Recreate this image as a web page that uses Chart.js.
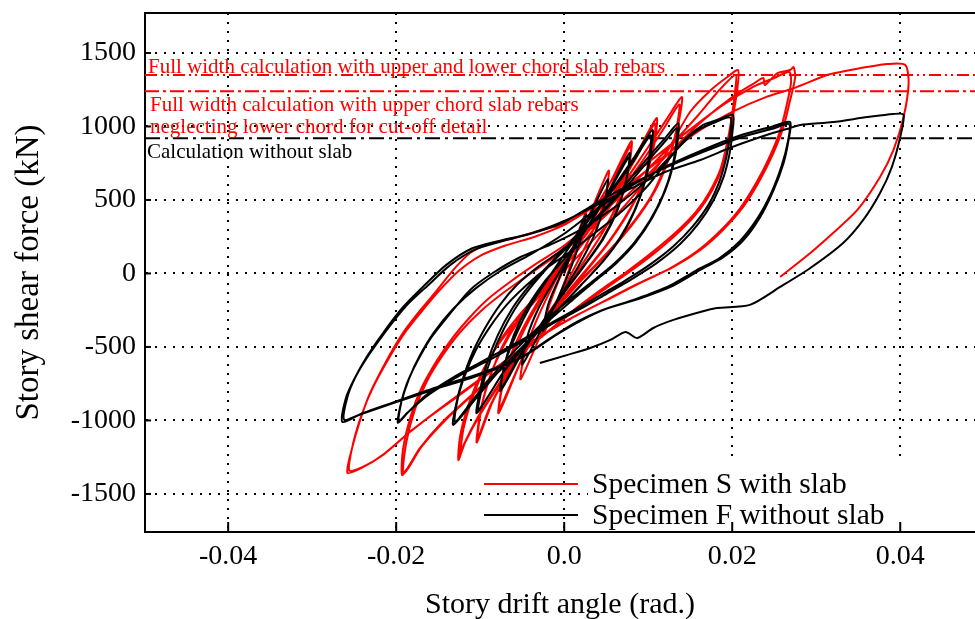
<!DOCTYPE html>
<html>
<head>
<meta charset="utf-8">
<script src="https://cdn.jsdelivr.net/npm/chart.js@4.4.1/dist/chart.umd.min.js"></script>
<style>
  html, body { margin: 0; padding: 0; background: #fff; }
  #wrap { width: 975px; height: 619px; position: relative; }
</style>
</head>
<body>
<div id="wrap"><canvas id="hysteresis"></canvas></div>
<script>
// ============================================
// Data (story drift angle [rad], story shear force [kN])
// ============================================

const xTicks = [-0.04, -0.02, 0, 0.02, 0.04];
const xTickLabels = ['-0.04', '-0.02', '0.0', '0.02', '0.04'];
const yTicks = [-1500, -1000, -500, 0, 500, 1000, 1500];

// calculated strengths (horizontal reference lines)
const calcFullWidthBothChords = 1350;
const calcFullWidthUpperChord = 1240;
const calcWithoutSlab = 920;

// Specimen F without slab - cycles in loading order
const loopF1 = [[0,0],[0.0012,200],[0.0026,400],[0.0020,240],[0.0008,40],[-0.0006,-150],[-0.0025,-390]];
const loopF2 = [[-0.0019,-210],[-0.0005,-20],[0.0012,170],[0.0030,390],[0.0052,640],[0.0047,450],[0.0035,250],[0.0017,50],[-0.0004,-150],[-0.0026,-370],[-0.0050,-620]];
const loopF3 = [[-0.0044,-430],[-0.0030,-230],[-0.0012,-50],[0.0008,140],[0.0030,340],[0.0054,570],[0.0078,820],[0.0074,640],[0.0064,440],[0.0047,240],[0.0025,60],[0.0000,-130],[-0.0026,-330],[-0.0052,-560],[-0.0076,-800]];
const loopF4 = [[-0.0071,-620],[-0.0060,-420],[-0.0044,-230],[-0.0024,-60],[0.0000,100],[0.0026,300],[0.0052,540],[0.0077,790],[0.0073,610],[0.0062,420],[0.0045,230],[0.0023,50],[-0.0002,-140],[-0.0028,-350],[-0.0054,-570],[-0.0075,-780]];
const loopF5 = [[-0.0070,-600],[-0.0056,-400],[-0.0040,-220],[-0.0020,-40],[0.0005,170],[0.0030,370],[0.0058,580],[0.0082,780],[0.0105,975],[0.0103,820],[0.0097,640],[0.0085,440],[0.0068,250],[0.0046,80],[0.0020,-80],[-0.0008,-250],[-0.0040,-450],[-0.0070,-650],[-0.0104,-950]];
const loopF6 = [[-0.0100,-790],[-0.0092,-610],[-0.0079,-420],[-0.0062,-240],[-0.0041,-80],[-0.0018,60],[0.0007,210],[0.0032,390],[0.0058,570],[0.0082,760],[0.0103,940],[0.0101,790],[0.0095,610],[0.0083,420],[0.0066,240],[0.0044,70],[0.0018,-90],[-0.0010,-260],[-0.0042,-460],[-0.0072,-670],[-0.0102,-930]];
const loopF7 = [[-0.0097,-760],[-0.0086,-560],[-0.0072,-380],[-0.0055,-210],[-0.0035,-60],[-0.0010,100],[0.0015,240],[0.0045,420],[0.0075,620],[0.0100,790],[0.0120,920],[0.0136,1023],[0.0135,900],[0.0130,740],[0.0120,560],[0.0105,380],[0.0085,210],[0.0062,70],[0.0035,-60],[0.0010,-180],[-0.0020,-330],[-0.0050,-500],[-0.0080,-680],[-0.0105,-850],[-0.0132,-1030]];
const loopF8 = [[-0.0129,-900],[-0.0122,-740],[-0.0110,-550],[-0.0094,-370],[-0.0076,-210],[-0.0055,-70],[-0.0030,50],[-0.0005,150],[0.0020,270],[0.0050,440],[0.0080,630],[0.0105,800],[0.0122,910],[0.0134,990],[0.0133,870],[0.0128,710],[0.0118,540],[0.0102,360],[0.0082,200],[0.0058,60],[0.0030,-70],[0.0002,-200],[-0.0028,-350],[-0.0058,-520],[-0.0088,-710],[-0.0110,-870],[-0.0130,-1010]];
const loopF9 = [[-0.0127,-860],[-0.0118,-690],[-0.0105,-520],[-0.0088,-360],[-0.0068,-210],[-0.0045,-80],[-0.0020,40],[0.0010,160],[0.0040,290],[0.0070,430],[0.0100,600],[0.0125,780],[0.0145,920],[0.0165,1010],[0.0185,1050],[0.0201,1078],[0.0200,950],[0.0197,820],[0.0190,660],[0.0178,500],[0.0160,340],[0.0138,200],[0.0110,70],[0.0080,-40],[0.0050,-140],[0.0020,-240],[-0.0010,-330],[-0.0040,-430],[-0.0080,-560],[-0.0120,-680],[-0.0160,-820],[-0.0185,-940],[-0.0198,-1017]];
const loopF10 = [[-0.0195,-900],[-0.0187,-745],[-0.0175,-600],[-0.0160,-450],[-0.0139,-296],[-0.0112,-112],[-0.0085,3],[-0.0052,112],[-0.0017,194],[0.0019,296],[0.0060,450],[0.0100,640],[0.0130,820],[0.0155,960],[0.0178,1025],[0.0198,1060],[0.0197,930],[0.0193,790],[0.0185,630],[0.0172,470],[0.0153,320],[0.0130,185],[0.0102,60],[0.0072,-50],[0.0042,-150],[0.0012,-250],[-0.0018,-345],[-0.0050,-450],[-0.0090,-575],[-0.0130,-700],[-0.0165,-830],[-0.0187,-950],[-0.0197,-1005]];
const loopF11 = [[-0.0194,-880],[-0.0185,-720],[-0.0172,-560],[-0.0155,-400],[-0.0132,-240],[-0.0105,-100],[-0.0075,20],[-0.0040,130],[0.0000,270],[0.0030,400],[0.0070,560],[0.0115,710],[0.0165,840],[0.0210,940],[0.0248,1000],[0.0269,1030],[0.0267,905],[0.0261,748],[0.0249,564],[0.0233,381],[0.0213,224],[0.0189,109],[0.0162,24],[0.0130,-82],[0.0090,-170],[0.0050,-240],[0.0020,-320],[-0.0010,-420],[-0.0050,-570],[-0.0100,-680],[-0.0150,-770],[-0.0200,-870],[-0.0240,-950],[-0.0264,-1010]];
const loopF12 = [[-0.0260,-850],[-0.0250,-720],[-0.0235,-567],[-0.0215,-400],[-0.0192,-230],[-0.0168,-90],[-0.0140,60],[-0.0110,170],[-0.0075,225],[-0.0040,270],[0.0000,350],[0.0030,450],[0.0070,580],[0.0115,705],[0.0165,825],[0.0210,925],[0.0248,985],[0.0268,1015],[0.0266,890],[0.0259,735],[0.0247,555],[0.0230,375],[0.0209,220],[0.0185,105],[0.0157,20],[0.0125,-85],[0.0085,-175],[0.0045,-250],[0.0015,-330],[-0.0015,-435],[-0.0055,-585],[-0.0105,-700],[-0.0155,-790],[-0.0205,-885],[-0.0243,-960],[-0.0262,-995]];
const loopF13 = [[-0.0258,-840],[-0.0248,-700],[-0.0232,-550],[-0.0212,-390],[-0.0188,-220],[-0.0162,-80],[-0.0135,60],[-0.0105,165],[-0.0070,225],[-0.0035,280],[0.0005,370],[0.0040,470],[0.0080,580],[0.0120,690],[0.0162,772],[0.0200,860],[0.0240,940],[0.0269,990],[0.0281,1010],[0.0320,1030],[0.0361,1064],[0.0392,1085],[0.0404,1080],[0.0400,928],[0.0390,724],[0.0376,547],[0.0356,364],[0.0332,207],[0.0293,37],[0.0257,-92],[0.0221,-214],[0.0182,-235],[0.0162,-262],[0.0130,-316],[0.0106,-371],[0.0087,-439],[0.0073,-398],[0.0055,-452],[0.0031,-507],[0.0004,-554],[-0.0029,-609]];

// Specimen S with slab - cycles in loading order
const loopS1 = [[0,0],[0.0013,220],[0.0026,420],[0.0020,260],[0.0008,60],[-0.0007,-170],[-0.0026,-430]];
const loopS2 = [[-0.0019,-240],[-0.0006,-40],[0.0010,170],[0.0030,400],[0.0053,700],[0.0048,500],[0.0035,300],[0.0016,80],[-0.0006,-160],[-0.0028,-420],[-0.0052,-720]];
const loopS3 = [[-0.0046,-520],[-0.0033,-320],[-0.0015,-100],[0.0006,130],[0.0030,380],[0.0055,620],[0.0080,900],[0.0077,720],[0.0067,520],[0.0050,320],[0.0028,120],[0.0004,-80],[-0.0022,-300],[-0.0050,-580],[-0.0078,-950]];
const loopS4 = [[-0.0074,-760],[-0.0064,-560],[-0.0049,-370],[-0.0030,-180],[-0.0008,0],[0.0018,220],[0.0048,500],[0.0079,870],[0.0076,690],[0.0065,500],[0.0048,300],[0.0026,100],[0.0002,-100],[-0.0024,-320],[-0.0051,-590],[-0.0077,-920]];
const loopS5 = [[-0.0071,-700],[-0.0057,-500],[-0.0040,-300],[-0.0020,-110],[0.0002,80],[0.0028,290],[0.0058,540],[0.0085,800],[0.0110,1057],[0.0108,900],[0.0101,730],[0.0090,560],[0.0074,390],[0.0053,210],[0.0028,30],[0.0000,-160],[-0.0030,-380],[-0.0060,-620],[-0.0085,-870],[-0.0104,-1150]];
const loopS6 = [[-0.0101,-980],[-0.0094,-800],[-0.0082,-610],[-0.0066,-430],[-0.0046,-260],[-0.0024,-100],[0.0000,70],[0.0028,280],[0.0058,520],[0.0085,780],[0.0108,1020],[0.0106,870],[0.0099,700],[0.0087,530],[0.0070,360],[0.0049,185],[0.0024,10],[-0.0004,-180],[-0.0034,-400],[-0.0064,-650],[-0.0088,-900],[-0.0103,-1120]];
const loopS7 = [[-0.0098,-900],[-0.0088,-700],[-0.0074,-500],[-0.0056,-320],[-0.0034,-150],[-0.0010,20],[0.0015,190],[0.0045,420],[0.0075,650],[0.0100,860],[0.0122,1050],[0.0140,1200],[0.0138,1080],[0.0132,920],[0.0122,740],[0.0108,560],[0.0090,400],[0.0068,240],[0.0042,80],[0.0015,-80],[-0.0015,-280],[-0.0045,-500],[-0.0075,-740],[-0.0100,-960],[-0.0118,-1150],[-0.0126,-1270]];
const loopS8 = [[-0.0124,-1112],[-0.0116,-928],[-0.0104,-745],[-0.0088,-568],[-0.0068,-405],[-0.0044,-248],[-0.0020,-90],[0.0005,80],[0.0035,300],[0.0065,540],[0.0095,780],[0.0120,1000],[0.0137,1150],[0.0135,1030],[0.0129,870],[0.0118,700],[0.0104,530],[0.0085,370],[0.0062,210],[0.0036,50],[0.0008,-110],[-0.0022,-310],[-0.0052,-530],[-0.0080,-770],[-0.0104,-990],[-0.0120,-1170],[-0.0124,-1240]];
const loopS9 = [[-0.0120,-1060],[-0.0110,-860],[-0.0096,-660],[-0.0078,-470],[-0.0056,-300],[-0.0030,-140],[0.0000,20],[0.0035,230],[0.0075,480],[0.0115,760],[0.0150,1100],[0.0175,1250],[0.0195,1340],[0.0207,1384],[0.0206,1250],[0.0201,1071],[0.0197,915],[0.0189,732],[0.0177,575],[0.0162,440],[0.0140,300],[0.0110,150],[0.0080,20],[0.0050,-100],[0.0015,-240],[-0.0020,-400],[-0.0060,-580],[-0.0100,-780],[-0.0140,-990],[-0.0170,-1180],[-0.0185,-1320],[-0.0193,-1370]];
const loopS10 = [[-0.0192,-1200],[-0.0183,-976],[-0.0171,-792],[-0.0151,-588],[-0.0132,-432],[-0.0112,-296],[-0.0092,-180],[-0.0065,-60],[-0.0035,60],[0.0000,190],[0.0040,380],[0.0080,600],[0.0120,830],[0.0160,1080],[0.0185,1250],[0.0204,1350],[0.0203,1220],[0.0199,1050],[0.0194,890],[0.0186,710],[0.0173,555],[0.0157,420],[0.0134,285],[0.0104,140],[0.0074,10],[0.0044,-110],[0.0010,-255],[-0.0025,-420],[-0.0065,-600],[-0.0105,-800],[-0.0145,-1010],[-0.0172,-1190],[-0.0186,-1320],[-0.0192,-1355]];
const loopS11 = [[-0.0188,-1150],[-0.0178,-930],[-0.0164,-740],[-0.0145,-560],[-0.0124,-400],[-0.0100,-260],[-0.0072,-130],[-0.0040,0],[-0.0005,140],[0.0035,320],[0.0080,560],[0.0125,820],[0.0165,1040],[0.0200,1200],[0.0225,1290],[0.0237,1329],[0.0239,1282],[0.0254,1363],[0.0269,1384],[0.0273,1404],[0.0275,1336],[0.0269,1180],[0.0261,996],[0.0249,819],[0.0233,636],[0.0213,452],[0.0189,296],[0.0162,160],[0.0130,44],[0.0090,-65],[0.0051,-180],[0.0011,-296],[-0.0029,-432],[-0.0080,-640],[-0.0130,-850],[-0.0180,-1060],[-0.0215,-1230],[-0.0240,-1320],[-0.0258,-1357]];
const loopS12 = [[-0.0253,-1200],[-0.0243,-1000],[-0.0231,-813],[-0.0211,-588],[-0.0192,-405],[-0.0171,-248],[-0.0151,-112],[-0.0132,24],[-0.0112,139],[-0.0090,200],[-0.0060,240],[-0.0030,290],[0.0005,350],[0.0035,470],[0.0070,620],[0.0110,800],[0.0150,980],[0.0190,1150],[0.0225,1270],[0.0250,1330],[0.0268,1370],[0.0270,1300],[0.0265,1150],[0.0257,970],[0.0245,800],[0.0229,620],[0.0209,440],[0.0185,285],[0.0158,150],[0.0126,35],[0.0086,-75],[0.0047,-190],[0.0007,-310],[-0.0033,-445],[-0.0085,-655],[-0.0135,-865],[-0.0183,-1075],[-0.0217,-1240],[-0.0241,-1320],[-0.0256,-1340]];
const loopS13 = [[-0.0251,-1150],[-0.0241,-960],[-0.0228,-780],[-0.0208,-570],[-0.0188,-390],[-0.0167,-240],[-0.0146,-100],[-0.0125,20],[-0.0100,120],[-0.0070,190],[-0.0035,250],[0.0000,330],[0.0040,470],[0.0080,620],[0.0120,800],[0.0162,976],[0.0200,1100],[0.0240,1200],[0.0273,1260],[0.0313,1350],[0.0329,1370],[0.0360,1404],[0.0385,1425],[0.0406,1418],[0.0410,1295],[0.0404,1064],[0.0392,840],[0.0376,656],[0.0349,432],[0.0320,275],[0.0293,139],[0.0257,-24]];

const loopsF = [loopF1, loopF2, loopF3, loopF4, loopF5, loopF6, loopF7, loopF8, loopF9, loopF10, loopF11, loopF12, loopF13];
const loopsS = [loopS1, loopS2, loopS3, loopS4, loopS5, loopS6, loopS7, loopS8, loopS9, loopS10, loopS11, loopS12, loopS13];

// ============================================
// Helpers
// ============================================

const SERIF = '"Liberation Serif", "DejaVu Serif", serif';

function toPoints(loops) {
  return loops.flat().map(p => ({ x: p[0], y: p[1] }));
}

function refLine(value, color, dash) {
  return {
    data: [{ x: -0.0499, y: value }, { x: 0.0489, y: value }],
    borderColor: color,
    borderWidth: 2,
    borderDash: dash,
    showLine: true,
    pointRadius: 0,
    tension: 0
  };
}

// annotations, legend, inward ticks, frame
const decorPlugin = {
  id: 'decor',
  beforeDatasetsDraw(chart) {
    const { ctx, chartArea } = chart;
    // legend text box hides the grid behind it
    ctx.save();
    ctx.fillStyle = '#fff';
    ctx.fillRect(588, 462, chartArea.right - 588, chartArea.bottom - 463);
    ctx.restore();
  },
  afterDatasetsDraw(chart) {
    const { ctx, chartArea } = chart;
    const xs = chart.scales.x;
    const ys = chart.scales.y;
    ctx.save();

    // inward tick marks
    ctx.strokeStyle = '#000';
    ctx.lineWidth = 2;
    xTicks.forEach(v => {
      const px = xs.getPixelForValue(v);
      ctx.beginPath();
      ctx.moveTo(px, chartArea.bottom);
      ctx.lineTo(px, chartArea.bottom - 10);
      ctx.stroke();
    });
    yTicks.forEach(v => {
      const py = ys.getPixelForValue(v);
      ctx.beginPath();
      ctx.moveTo(chartArea.left, py);
      ctx.lineTo(chartArea.left + 6, py);
      ctx.stroke();
    });

    // top frame line
    ctx.beginPath();
    ctx.moveTo(chartArea.left, chartArea.top);
    ctx.lineTo(chartArea.right, chartArea.top);
    ctx.stroke();

    // annotations for the calculated strengths
    ctx.font = '21px ' + SERIF;
    ctx.textAlign = 'left';
    ctx.textBaseline = 'alphabetic';
    const y1 = ys.getPixelForValue(calcFullWidthBothChords);
    const y2 = ys.getPixelForValue(calcFullWidthUpperChord);
    const y3 = ys.getPixelForValue(calcWithoutSlab);
    ctx.fillStyle = '#ff0000';
    ctx.fillText('Full width calculation with upper and lower chord slab rebars', chartArea.left + 3, y1 - 2);
    ctx.fillText('Full width calculation with upper chord slab rebars', chartArea.left + 5, y2 + 20);
    ctx.fillText('neglecting lower chord for cut-off detail', chartArea.left + 5, y2 + 42);
    ctx.fillStyle = '#000';
    ctx.fillText('Calculation without slab', chartArea.left + 2, y3 + 20);

    // legend
    const items = [
      { label: 'Specimen S with slab', color: '#ff0000', y: 484 },
      { label: 'Specimen F without slab', color: '#000000', y: 515 }
    ];
    ctx.font = '29.5px ' + SERIF;
    ctx.textBaseline = 'middle';
    items.forEach(it => {
      ctx.strokeStyle = it.color;
      ctx.lineWidth = 2;
      ctx.beginPath();
      ctx.moveTo(484, it.y);
      ctx.lineTo(578, it.y);
      ctx.stroke();
      ctx.fillStyle = '#000';
      ctx.fillText(it.label, 592, it.y + 1);
    });
    ctx.restore();
  }
};

// ============================================
// Chart
// ============================================

const ctx = document.getElementById('hysteresis');

new Chart(ctx, {
  type: 'scatter',
  data: {
    datasets: [
      {
        label: 'Specimen F without slab',
        data: toPoints(loopsF),
        borderColor: '#000000',
        borderWidth: 2,
        showLine: true,
        pointRadius: 0,
        tension: 0.25
      },
      {
        label: 'Specimen S with slab',
        data: toPoints(loopsS),
        borderColor: '#ff0000',
        borderWidth: 2,
        showLine: true,
        pointRadius: 0,
        tension: 0.25
      },
      refLine(calcFullWidthBothChords, '#ff0000', [12, 4, 2, 4, 2, 4]),
      refLine(calcFullWidthUpperChord, '#ff0000', [14, 4, 3, 4]),
      refLine(calcWithoutSlab, '#000000', [15, 5, 3, 5])
    ]
  },
  options: {
    responsive: true,
    maintainAspectRatio: false,
    animation: false,
    devicePixelRatio: 1,
    layout: { padding: { top: 13, right: 0, left: 0, bottom: 0 } },
    plugins: {
      legend: { display: false },
      tooltip: { enabled: false }
    },
    scales: {
      x: {
        type: 'linear',
        min: -0.0499,
        max: 0.0489,
        afterBuildTicks: scale => { scale.ticks = xTicks.map(v => ({ value: v })); },
        afterFit: scale => {
          scale.height = 87;
          scale.paddingLeft = 0;
          scale.paddingRight = 0;
        },
        ticks: {
          padding: 8,
          color: '#000',
          maxRotation: 0,
          font: { family: SERIF, size: 28 },
          callback: (value, index) => xTickLabels[index]
        },
        grid: { color: '#000', lineWidth: 2, drawTicks: false },
        border: { display: true, color: '#000', width: 2, dash: [2, 7] },
        title: {
          display: true,
          text: 'Story drift angle (rad.)',
          color: '#000',
          font: { family: SERIF, size: 30, lineHeight: 0.9 },
          padding: { top: 0, bottom: 0 }
        }
      },
      y: {
        type: 'linear',
        min: -1759,
        max: 1772,
        afterBuildTicks: scale => { scale.ticks = yTicks.map(v => ({ value: v })); },
        afterFit: scale => {
          scale.width = 145;
          scale.paddingTop = 0;
          scale.paddingBottom = 0;
        },
        ticks: {
          padding: 9,
          color: '#000',
          font: { family: SERIF, size: 28 },
          callback: value => String(value)
        },
        grid: { color: '#000', lineWidth: 2, drawTicks: false },
        border: { display: true, color: '#000', width: 2, dash: [2, 7] },
        title: {
          display: true,
          text: 'Story shear force (kN)',
          color: '#000',
          font: { family: SERIF, size: 33, lineHeight: 1.2 },
          padding: { top: 10, bottom: 0 }
        }
      }
    }
  },
  plugins: [decorPlugin]
});
</script>
</body>
</html>
